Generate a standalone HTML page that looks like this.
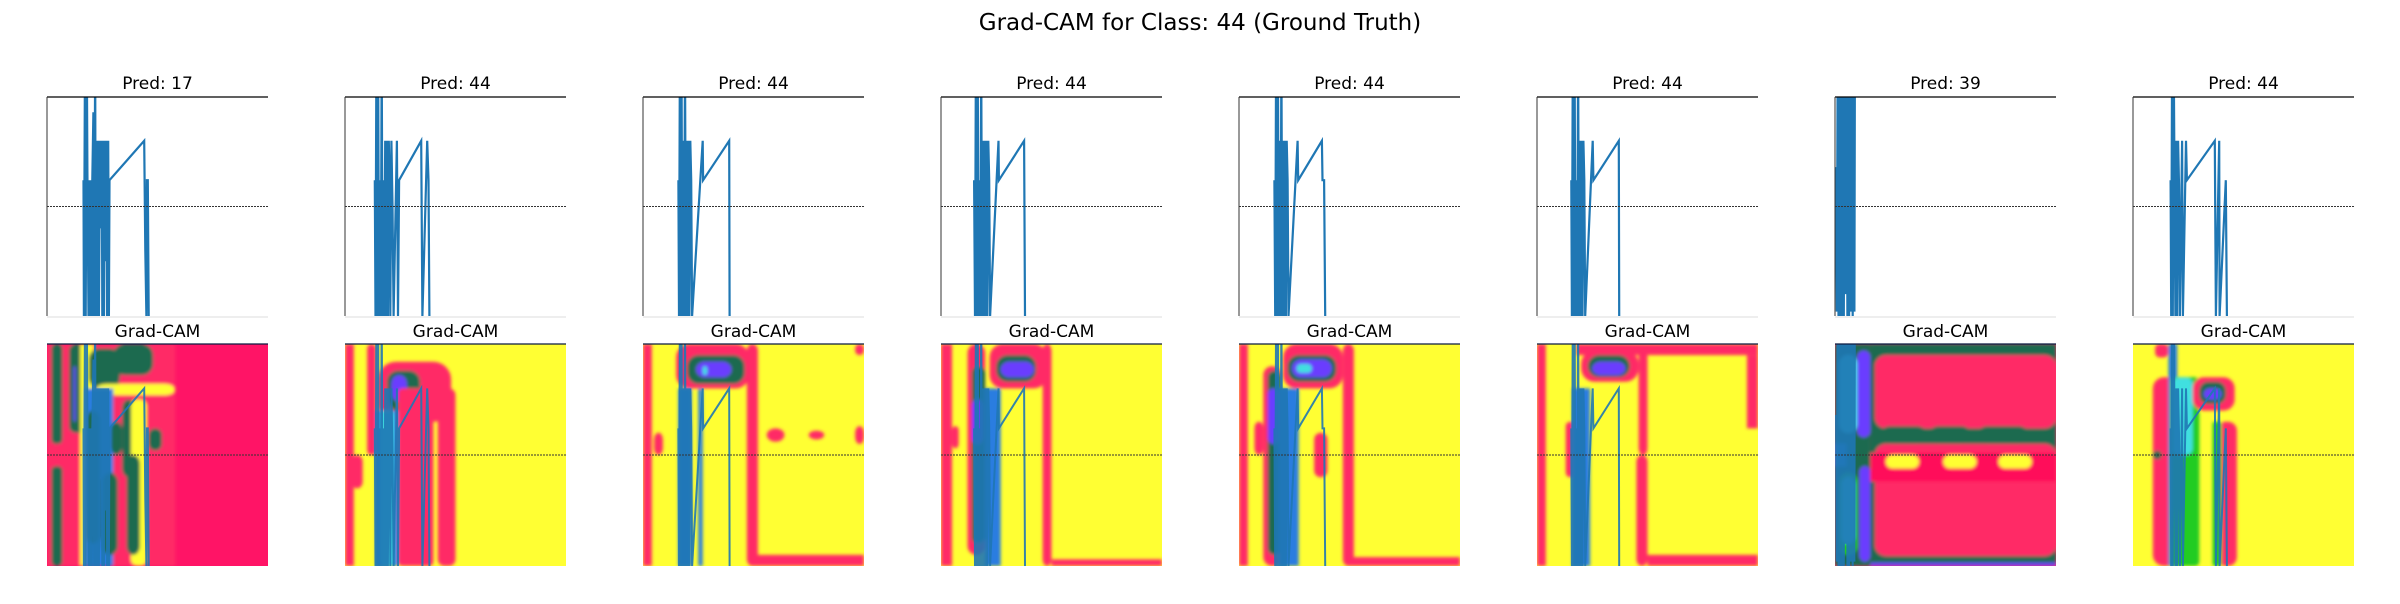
<!DOCTYPE html>
<html><head><meta charset="utf-8">
<style>
html,body{margin:0;padding:0;background:#fff;}
body{width:2400px;height:600px;overflow:hidden;font-family:"DejaVu Sans","Liberation Sans",sans-serif;}
</style></head>
<body>
<svg id="fig" width="2400" height="600" viewBox="0 0 2400 600" xmlns="http://www.w3.org/2000/svg" font-family="DejaVu Sans, Liberation Sans, sans-serif">
<defs><filter id="soft" x="-5%" y="-5%" width="110%" height="110%"><feGaussianBlur stdDeviation="1.6"/></filter></defs>
<text x="1200" y="30" text-anchor="middle" font-size="23" fill="#000">Grad-CAM for Class: 44 (Ground Truth)</text>
</svg>
<script>
// ---- data ----
const predLabels = ["Pred: 17","Pred: 44","Pred: 44","Pred: 44","Pred: 44","Pred: 44","Pred: 39","Pred: 44"];
const heatTitle = "Grad-CAM";
// x in fraction of axis width, y signal value (0 bottom .. 1 top; >1 clipped)
const xs1 = [0.165,0.167,0.172,0.175,0.18,0.183,0.188,0.19,0.195,0.198,0.203,0.205,0.21,0.213,0.218,0.22,0.225,0.228,0.232,0.235,0.24,0.243,0.248,0.25,0.255,0.258,0.262,0.265,0.27,0.272,0.277,0.28,0.283,0.44,0.445,0.45,0.452,0.456,0.46];
const ys1 = [0.62,0,1.2,0,1.2,0.66,0,0.62,0,0.62,0,0.62,0.93,0,1.2,0,0.8,0,0.8,0,0.8,0.4,0.8,0,0.8,0,0.8,0.25,0.8,0,0.8,0,0.62,0.8,0.3,0,0.62,0.62,0];
const xs2 = [0.135,0.138,0.142,0.146,0.15,0.154,0.158,0.162,0.166,0.17,0.174,0.178,0.182,0.186,0.19,0.194,0.198,0.202,0.205,0.21,0.215,0.22,0.235,0.24,0.245,0.345,0.35,0.372,0.378,0.382];
const ys2 = [0.62,0,1.2,0,1.2,0,0.62,0,1.2,0,0.62,0,0.8,0,0.8,0,0.8,0.62,0,0.8,0.5,0,0.8,0,0.62,0.8,0,0.8,0.62,0];
const xs3 = [0.16,0.163,0.167,0.17,0.174,0.178,0.182,0.186,0.19,0.194,0.198,0.202,0.206,0.21,0.214,0.218,0.222,0.27,0.272,0.39,0.392];
const ys3 = [0.62,0,1.2,0,1.2,0,0.8,0,1.2,0,0.8,0,0.8,0,0.8,0.62,0,0.8,0.62,0.8,0];
const xs4 = [0.15,0.154,0.158,0.162,0.166,0.17,0.174,0.178,0.182,0.186,0.19,0.194,0.198,0.202,0.206,0.21,0.214,0.218,0.222,0.26,0.262,0.376,0.38];
const ys4 = [0.62,0,1.2,0,1.2,0,0.62,0,1.2,0,0.8,0,0.8,0,0.8,0,0.8,0.62,0,0.8,0.62,0.8,0];
const xs5 = [0.16,0.164,0.168,0.172,0.176,0.18,0.184,0.188,0.192,0.196,0.2,0.204,0.208,0.212,0.216,0.22,0.224,0.265,0.268,0.375,0.378,0.385,0.39];
const ys5 = [0.62,0,1.2,0,1.2,0,0.8,0,1.2,0,0.8,0,0.8,0,0.8,0.62,0,0.8,0.62,0.8,0.62,0.62,0];
const xs6 = [0.155,0.158,0.162,0.166,0.17,0.174,0.178,0.182,0.186,0.19,0.194,0.198,0.202,0.206,0.21,0.214,0.218,0.252,0.255,0.37,0.372];
const ys6 = [0.62,0,1.2,0,1.2,0,0.62,0,1.2,0,0.8,0,0.8,0,0.8,0.62,0,0.8,0.62,0.8,0];
const xs7 = [0.005,0.008,0.012,0.016,0.02,0.024,0.028,0.032,0.036,0.04,0.044,0.048,0.052,0.056,0.06,0.064,0.068,0.072,0.076,0.08,0.084,0.088,0.09];
const ys7 = [0.68,0.02,1.2,0,1.2,0,1.2,0,1.2,0,1.2,0.1,1.2,0,1.2,0,1.2,0.02,1.2,0,1.2,0.02,1.2];
const xs8 = [0.17,0.173,0.177,0.18,0.184,0.188,0.192,0.196,0.2,0.204,0.208,0.212,0.222,0.226,0.24,0.244,0.37,0.375,0.39,0.392,0.42,0.425];
const ys8 = [0.62,0,1.2,0,1.2,0.62,0,0.8,0,0.8,0.6,0,0.8,0,0.8,0.62,0.8,0,0.8,0,0.62,0];
const lineXs = [xs1,xs2,xs3,xs4,xs5,xs6,xs7,xs8];
const lineYs = [ys1,ys2,ys3,ys4,ys5,ys6,ys7,ys8];
const refLevel = 0.5;
const heatBg = ["#ff1466","#ffff33","#ffff33","#ffff33","#ffff33","#ffff33","#ff3366","#ffff33"];
// heatmap blobs: [x0,y0,x1,y1,color,radius] in fractions (y from top)
const Y="#ffff33",P="#ff2a66",G="#1e6a50",B="#2a7de0",V="#6a3cff",C="#40e0e0",L="#22cc22";
const heatBlobs = [
 [[0,0,0.58,1,P,0],[0.02,0,0.07,0.45,G,0.02],[0.02,0.55,0.07,1,G,0.02],[0.1,0,0.17,0.4,G,0.03],[0.12,0.1,0.13,0.35,V,0.01],[0.15,0,0.21,1,Y,0],[0.19,0.02,0.33,0.2,G,0.05],[0.22,0.18,0.58,0.23,Y,0.05],[0.3,0,0.48,0.14,G,0.05],[0.17,0.2,0.3,1,B,0],[0.18,0.3,0.24,0.9,G,0.04],[0.29,0.35,0.34,0.5,G,0.04],[0.34,0.25,0.4,0.6,G,0.04],[0.38,0.25,0.45,1,Y,0.03],[0.25,0.58,0.32,0.95,G,0.04],[0.36,0.5,0.42,0.95,G,0.04],[0.46,0.38,0.52,0.48,G,0.03],[0.52,0.3,0.58,0.85,P,0]],
 [[0.0,0,0.04,1,P,0],[0.1,0,0.14,0.5,P,0.02],[0.03,0.5,0.08,0.65,P,0.03],[0.15,0.08,0.48,0.35,P,0.08],[0.19,0.12,0.34,0.3,G,0.05],[0.21,0.14,0.28,0.26,V,0.04],[0.14,0.3,0.24,1,B,0],[0.16,0.3,0.22,1,C,0.02],[0.24,0.2,0.4,1,P,0.02],[0.42,0.2,0.5,1,P,0.03]],
 [[0,0,0.04,1,P,0],[0.05,0.4,0.09,0.5,P,0.03],[0.15,0,0.48,0.2,P,0.06],[0.2,0.05,0.46,0.18,G,0.05],[0.24,0.08,0.4,0.15,V,0.04],[0.27,0.1,0.29,0.14,C,0.01],[0.16,0.2,0.22,1,B,0],[0.25,0.2,0.27,1,B,0],[0.47,0,0.52,1,P,0.03],[0.5,0.95,1,1,P,0],[0.56,0.38,0.64,0.44,P,0.04],[0.75,0.39,0.82,0.43,P,0.04],[0.96,0.37,1,0.45,P,0.03],[0.96,0,1,0.05,P,0.02]],
 [[0,0,0.05,1,P,0],[0.05,0.37,0.08,0.47,P,0.02],[0.12,0,0.2,0.95,P,0.04],[0.14,0.1,0.2,0.9,G,0.03],[0.14,0.25,0.19,0.45,V,0.03],[0.22,0,0.48,0.2,P,0.06],[0.25,0.05,0.43,0.17,G,0.05],[0.27,0.08,0.42,0.15,V,0.04],[0.2,0.2,0.27,1,B,0],[0.46,0,0.5,1,P,0.03],[0.5,0.97,1,1,P,0]],
 [[0,0,0.04,1,P,0],[0.07,0.35,0.11,0.5,P,0.03],[0.11,0.1,0.19,1,P,0.04],[0.13,0.12,0.19,0.95,G,0.03],[0.13,0.2,0.18,0.45,V,0.03],[0.2,0,0.47,0.2,P,0.06],[0.22,0.05,0.44,0.17,G,0.05],[0.24,0.07,0.42,0.15,V,0.04],[0.26,0.09,0.33,0.13,C,0.02],[0.18,0.2,0.27,1,B,0],[0.34,0.4,0.4,0.6,P,0.03],[0.47,0,0.52,1,P,0.03],[0.5,0.96,1,1,P,0]],
 [[0,0,0.04,1,P,0],[0.13,0.35,0.17,0.6,P,0.02],[0.18,0,1,0.05,P,0],[0.2,0.03,0.46,0.17,P,0.06],[0.23,0.05,0.42,0.15,G,0.05],[0.25,0.08,0.4,0.14,V,0.04],[0.16,0.2,0.24,1,B,0],[0.46,0,0.5,0.5,P,0.03],[0.45,0.5,0.5,1,P,0.03],[0.5,0.95,1,1,P,0],[0.95,0.05,1,0.38,P,0]],
 [[0,0,0.16,1,G,0],[0.02,0.05,0.1,0.4,C,0.04],[0.02,0.58,0.1,0.95,L,0.04],[0.03,0.6,0.09,0.9,C,0.04],[0,0.45,0.05,0.55,B,0],[0.1,0.03,0.16,0.42,V,0.03],[0.11,0.55,0.16,0.98,V,0.03],[0.16,0,1,1,G,0],[0.18,0.05,1,0.38,P,0.05],[0.18,0.45,1,0.955,P,0.05],[0.16,0.49,1,0.62,"#ff0a5a",0],[0.2,0.37,0.42,0.45,G,0.05],[0.42,0.37,0.62,0.45,G,0.05],[0.64,0.37,0.88,0.45,G,0.05],[0.23,0.5,0.38,0.56,Y,0.03],[0.49,0.5,0.64,0.56,Y,0.03],[0.74,0.5,0.89,0.56,Y,0.03],[0.16,0.985,1,1,V,0]],
 [[0.1,0,0.16,0.06,P,0.02],[0.09,0.15,0.23,1,P,0.05],[0.09,0.48,0.13,0.52,G,0.02],[0.16,0,0.2,1,B,0],[0.17,0.15,0.3,1,L,0.02],[0.18,0.15,0.27,0.5,C,0.03],[0.27,0.15,0.46,0.3,P,0.05],[0.3,0.17,0.42,0.27,G,0.04],[0.32,0.2,0.4,0.25,V,0.03],[0.38,0.35,0.47,1,P,0.04],[0.36,0.35,0.4,1,L,0.01]]
];
// ---- layout ----
const NS="http://www.w3.org/2000/svg";
const svg=document.getElementById('fig');
const AX0=47, STEP=298, AW=221, TY=97, TH=219, HY=344, HH=222;
function mk(tag,attrs,parent){const e=document.createElementNS(NS,tag);for(const k in attrs)e.setAttribute(k,attrs[k]);(parent||svg).appendChild(e);return e;}
function sx(i,f){return AX0+i*STEP+f*AW;}
function syTop(v){return TY+TH-v*TH;}
function syHeat(v){return HY+HH-v*HH;}
function linePath(i,sy){const xs=lineXs[i],ys=lineYs[i];let d="";for(let k=0;k<xs.length;k++){d+=(k?"L":"M")+sx(i,xs[k]).toFixed(1)+","+sy(ys[k]).toFixed(1);}return d;}
for(let i=0;i<8;i++){
  const x0=AX0+i*STEP;
  const cp=mk('clipPath',{id:'ct'+i});mk('rect',{x:x0,y:TY,width:AW,height:TH},cp);
  const ch=mk('clipPath',{id:'ch'+i});mk('rect',{x:x0,y:HY,width:AW,height:HH},ch);
  const gt=mk('g',{});
  
  
  const tt=mk('text',{x:x0+AW/2,y:89,'text-anchor':'middle','font-size':17,fill:'#000'},gt);
  tt.textContent=predLabels[i];
  
  
  const gl=mk('g',{'clip-path':'url(#ct'+i+')'},gt);
  const lp=mk('path',{d:linePath(i,syTop),fill:'none',stroke:'#1f77b4','stroke-width':2.2,'stroke-linejoin':'miter'},gl);
  
  
  const rl=mk('line',{x1:x0,x2:x0+AW,y1:syTop(refLevel),y2:syTop(refLevel),stroke:'#333','stroke-width':1,'stroke-dasharray':'2,1'},gt);
  
  
  mk('line',{x1:x0,x2:x0+AW,y1:TY,y2:TY,stroke:'#000','stroke-width':1.2},gt);
  mk('line',{x1:x0,x2:x0,y1:TY,y2:TY+TH,stroke:'#333','stroke-width':1},gt);
  mk('line',{x1:x0,x2:x0+AW,y1:TY+TH+1,y2:TY+TH+1,stroke:'#eee','stroke-width':2},gt);
  const gh=mk('g',{});
  
  
  const ht=mk('text',{x:x0+AW/2,y:337,'text-anchor':'middle','font-size':17,fill:'#000'},gh);
  ht.textContent=heatTitle;
  
  
  const gc=mk('g',{'clip-path':'url(#ch'+i+')'},gh);
  const bg=mk('rect',{x:x0,y:HY,width:AW,height:HH,fill:heatBg[i]},gc);
  
  
  const gb=mk('g',{filter:'url(#soft)'},gc);
  heatBlobs[i].forEach(b=>{
    const w=(b[2]-b[0])*AW,h=(b[3]-b[1])*HH,r=b[5]*AW;
    const rc=mk('rect',{x:x0+b[0]*AW,y:HY+b[1]*HH,width:w,height:h,rx:r,ry:r,fill:b[4]},gb);
    
    
  });
  const hl=mk('path',{d:linePath(i,syHeat),fill:'none',stroke:'#1f77b4','stroke-width':2,opacity:0.9},gc);
  
  
  const hr=mk('line',{x1:x0,x2:x0+AW,y1:syHeat(refLevel),y2:syHeat(refLevel),stroke:'#333','stroke-width':1,'stroke-dasharray':'2,1'},gc);
  
  
  mk('line',{x1:x0,x2:x0+AW,y1:HY,y2:HY,stroke:'#0a1a40','stroke-width':1.2},gh);
}
</script>
</body></html>
